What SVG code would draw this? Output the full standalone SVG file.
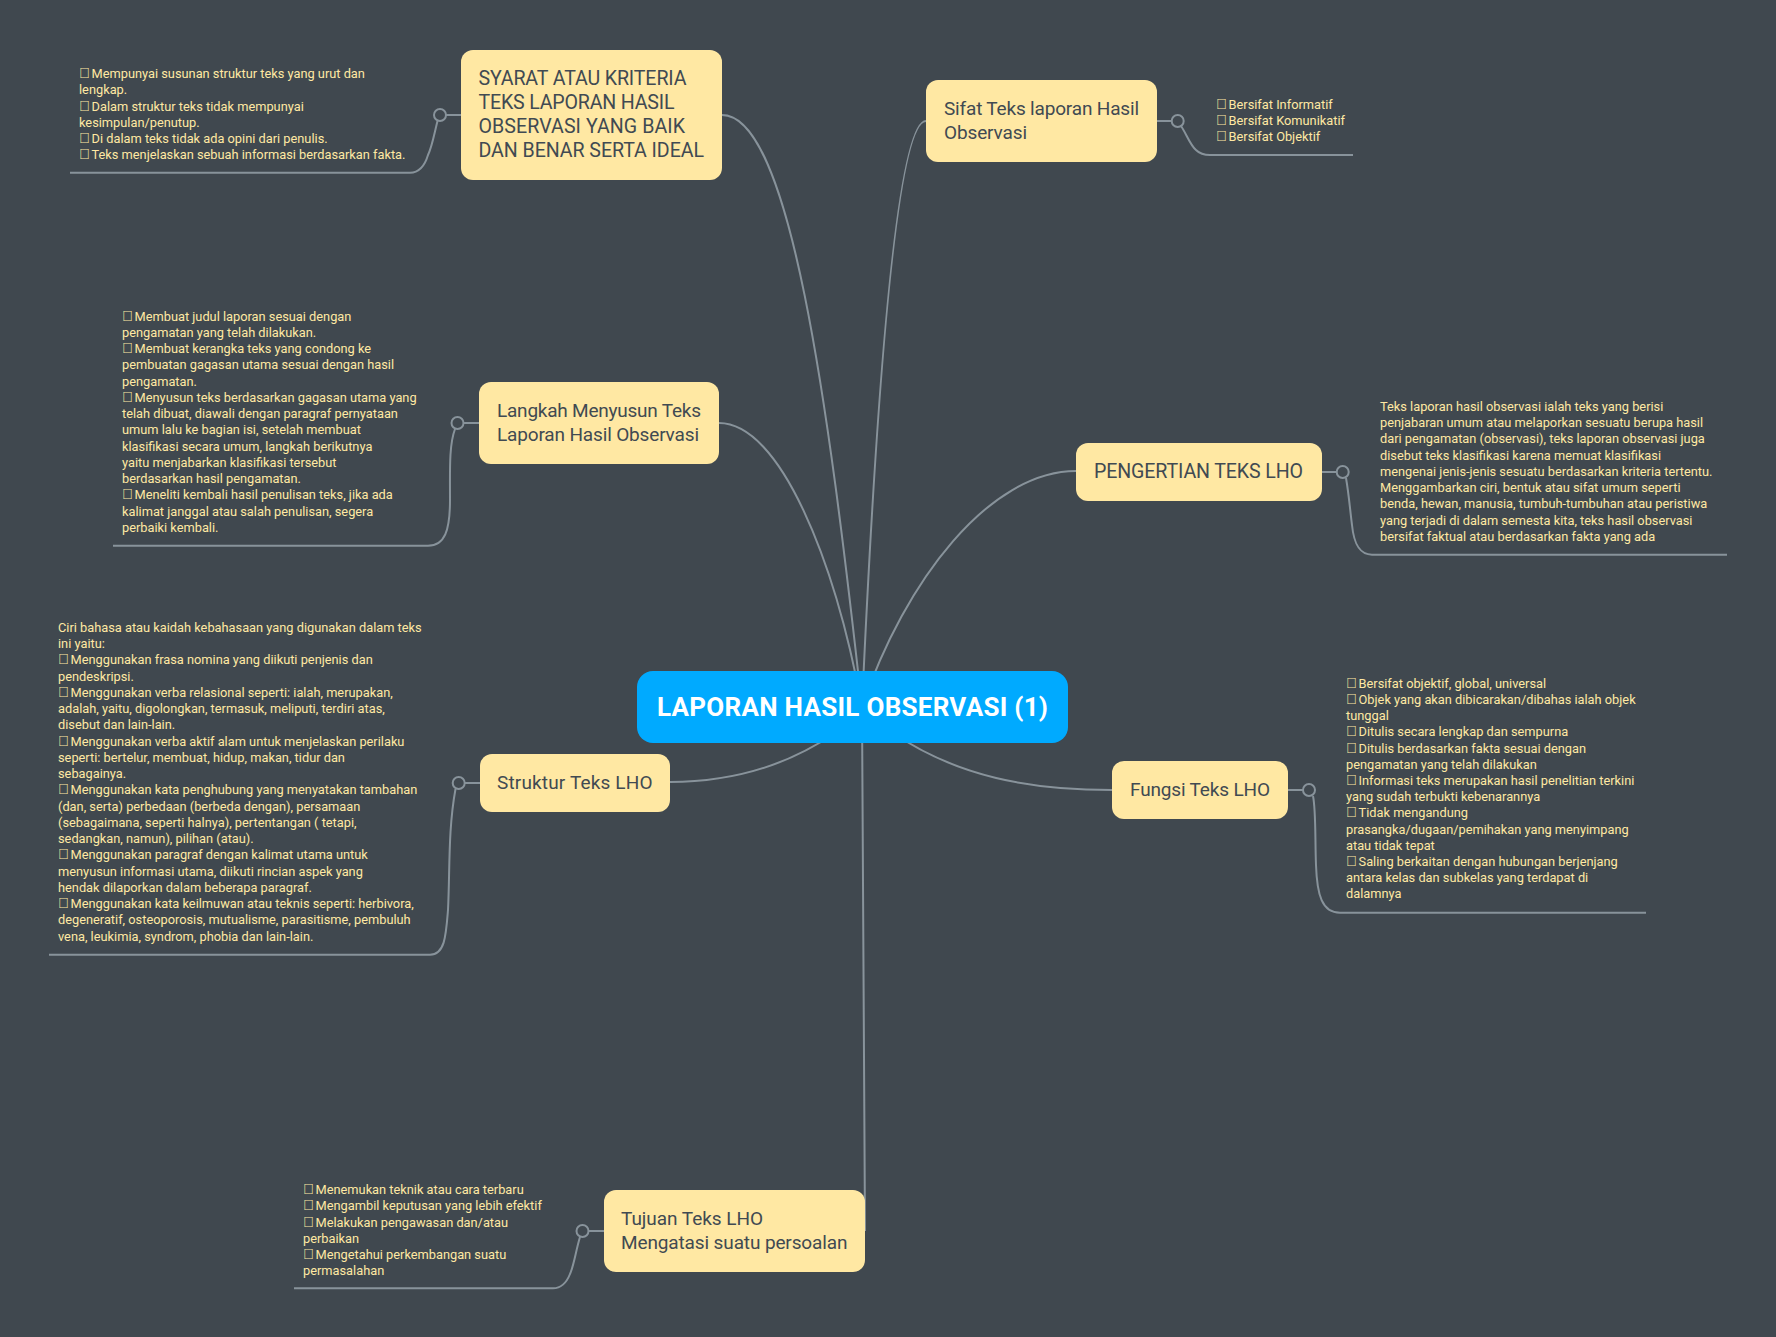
<svg xmlns="http://www.w3.org/2000/svg" width="1776" height="1337" viewBox="0 0 1776 1337">
<style>
text{font-family:"Roboto","Liberation Sans",sans-serif}
.n{fill:#ffe8a3}
.t{font-size:19px;fill:#414a52}
.u{font-size:19.600px}
.s{font-size:12.800px;fill:#ffe8a3}
.b{font-family:"Liberation Sans",sans-serif;font-size:14.500px;letter-spacing:-1.500px}
.c{fill:none;stroke:#88939b;stroke-width:2}
.h{fill:#40484f;stroke:#88939b;stroke-width:2}
</style>
<rect width="1776" height="1337" fill="#40484f"/>
<g id="connectors">
<path class="c" d="M722 115C790 115 828 400 862 707"/>
<path class="c" d="M926 121C895 121 875 420 862 707"/>
<path class="c" d="M719 423C780 423 835 560 862 707"/>
<path class="c" d="M1076 471C990 471 905 580 862 707"/>
<path class="c" d="M670 782C730 782 785 767 835 733"/>
<path class="c" d="M1112 790C1030 790 958 777 893 733"/>
<path class="c" d="M862 707C863 900 865 1100 865 1231"/>
<path class="c" d="M461 115H440M437.500 121C434 135 432 147 428 155C425 165 420 172.700 410 172.700H70"/>
<path class="c" d="M479 423H457.500M455 429C449 445 450 470 450 500C450 530 445 545.700 428 545.700H113"/>
<path class="c" d="M480 783H458.700M455.500 789C448 830 450 870 448 910C446 935 445 954.700 430 954.700H49"/>
<path class="c" d="M604 1231H582.500M580 1237C576 1250 574 1265 570 1274C566 1284 560 1288.300 553 1288.300H294"/>
<path class="c" d="M1156.700 121H1177.700M1181 126C1186 133 1190 145 1196 150C1200 154 1204 155 1210 155H1353"/>
<path class="c" d="M1322 472H1342.700M1346 478C1349 495 1350 510 1352 525C1354 545 1360 554.700 1372 554.700H1727"/>
<path class="c" d="M1288 790H1309M1313 796C1316 810 1315 840 1316 865C1317 895 1322 912.700 1340 912.700H1646"/>
</g>
<g id="root"><rect x="637" y="671" width="431" height="72" rx="16" fill="#00aaff"/>
<text x="657" y="716" font-size="26" font-weight="700" fill="#fff" textLength="391">LAPORAN HASIL OBSERVASI (1)</text></g>
<g id="n-syarat"><rect class="n" x="461" y="50" width="261" height="130" rx="12"/>
<text class="t u" x="478.500" y="85" textLength="208">SYARAT ATAU KRITERIA</text><text class="t u" x="478.500" y="109" textLength="196">TEKS LAPORAN HASIL</text><text class="t u" x="478.500" y="133" textLength="206.500">OBSERVASI YANG BAIK</text><text class="t u" x="478.500" y="157" textLength="225.500">DAN BENAR SERTA IDEAL</text></g>
<g id="n-sifat"><rect class="n" x="926" y="80" width="231" height="82" rx="12"/>
<text class="t" x="944" y="115" textLength="195">Sifat Teks laporan Hasil</text><text class="t" x="944" y="139" textLength="83">Observasi</text></g>
<g id="n-langkah"><rect class="n" x="479" y="382" width="240" height="82" rx="12"/>
<text class="t" x="497" y="417" textLength="204">Langkah Menyusun Teks</text><text class="t" x="497" y="441" textLength="202">Laporan Hasil Observasi</text></g>
<g id="n-pengertian"><rect class="n" x="1076" y="443" width="246" height="58" rx="12"/>
<text class="t u" x="1094" y="478" textLength="209">PENGERTIAN TEKS LHO</text></g>
<g id="n-struktur"><rect class="n" x="480" y="754" width="190" height="58" rx="12"/>
<text class="t" x="497" y="789" textLength="155.500">Struktur Teks LHO</text></g>
<g id="n-fungsi"><rect class="n" x="1112" y="761" width="176" height="58" rx="12"/>
<text class="t" x="1130" y="796" textLength="140">Fungsi Teks LHO</text></g>
<g id="n-tujuan"><rect class="n" x="604" y="1190" width="261" height="82" rx="12"/>
<text class="t" x="621" y="1225" textLength="142">Tujuan Teks LHO</text><text class="t" x="621" y="1249" textLength="226.500">Mengatasi suatu persoalan</text></g>
<g id="note-syarat"><circle class="h" cx="440" cy="115" r="6"/>
<text class="s"><tspan x="79" y="78"><tspan class="b">&#xF0B7;</tspan> Mempunyai susunan struktur teks yang urut dan</tspan><tspan x="79" y="94.200">lengkap.</tspan><tspan x="79" y="110.500"><tspan class="b">&#xF0B7;</tspan> Dalam struktur teks tidak mempunyai</tspan><tspan x="79" y="126.700">kesimpulan/penutup.</tspan><tspan x="79" y="143"><tspan class="b">&#xF0B7;</tspan> Di dalam teks tidak ada opini dari penulis.</tspan><tspan x="79" y="159.200"><tspan class="b">&#xF0B7;</tspan> Teks menjelaskan sebuah informasi berdasarkan fakta.</tspan></text></g>
<g id="note-langkah"><circle class="h" cx="457.500" cy="423" r="6"/>
<text class="s"><tspan x="122" y="320.700"><tspan class="b">&#xF0B7;</tspan> Membuat judul laporan sesuai dengan</tspan><tspan x="122" y="336.900">pengamatan yang telah dilakukan.</tspan><tspan x="122" y="353.200"><tspan class="b">&#xF0B7;</tspan> Membuat kerangka teks yang condong ke</tspan><tspan x="122" y="369.400">pembuatan gagasan utama sesuai dengan hasil</tspan><tspan x="122" y="385.600">pengamatan.</tspan><tspan x="122" y="401.900"><tspan class="b">&#xF0B7;</tspan> Menyusun teks berdasarkan gagasan utama yang</tspan><tspan x="122" y="418.100">telah dibuat, diawali dengan paragraf pernyataan</tspan><tspan x="122" y="434.300">umum lalu ke bagian isi, setelah membuat</tspan><tspan x="122" y="450.600">klasifikasi secara umum, langkah berikutnya</tspan><tspan x="122" y="466.800">yaitu menjabarkan klasifikasi tersebut</tspan><tspan x="122" y="483">berdasarkan hasil pengamatan.</tspan><tspan x="122" y="499.300"><tspan class="b">&#xF0B7;</tspan> Meneliti kembali hasil penulisan teks, jika ada</tspan><tspan x="122" y="515.500">kalimat janggal atau salah penulisan, segera</tspan><tspan x="122" y="531.700">perbaiki kembali.</tspan></text></g>
<g id="note-struktur"><circle class="h" cx="458.700" cy="783" r="6"/>
<text class="s"><tspan x="58" y="631.700">Ciri bahasa atau kaidah kebahasaan yang digunakan dalam teks</tspan><tspan x="58" y="648">ini yaitu:</tspan><tspan x="58" y="664.200"><tspan class="b">&#xF0B7;</tspan> Menggunakan frasa nomina yang diikuti penjenis dan</tspan><tspan x="58" y="680.500">pendeskripsi.</tspan><tspan x="58" y="696.700"><tspan class="b">&#xF0B7;</tspan> Menggunakan verba relasional seperti: ialah, merupakan,</tspan><tspan x="58" y="713">adalah, yaitu, digolongkan, termasuk, meliputi, terdiri atas,</tspan><tspan x="58" y="729.200">disebut dan lain-lain.</tspan><tspan x="58" y="745.500"><tspan class="b">&#xF0B7;</tspan> Menggunakan verba aktif alam untuk menjelaskan perilaku</tspan><tspan x="58" y="761.800">seperti: bertelur, membuat, hidup, makan, tidur dan</tspan><tspan x="58" y="778">sebagainya.</tspan><tspan x="58" y="794.300"><tspan class="b">&#xF0B7;</tspan> Menggunakan kata penghubung yang menyatakan tambahan</tspan><tspan x="58" y="810.500">(dan, serta) perbedaan (berbeda dengan), persamaan</tspan><tspan x="58" y="826.800">(sebagaimana, seperti halnya), pertentangan ( tetapi,</tspan><tspan x="58" y="843">sedangkan, namun), pilihan (atau).</tspan><tspan x="58" y="859.300"><tspan class="b">&#xF0B7;</tspan> Menggunakan paragraf dengan kalimat utama untuk</tspan><tspan x="58" y="875.600">menyusun informasi utama, diikuti rincian aspek yang</tspan><tspan x="58" y="891.800">hendak dilaporkan dalam beberapa paragraf.</tspan><tspan x="58" y="908.100"><tspan class="b">&#xF0B7;</tspan> Menggunakan kata keilmuwan atau teknis seperti: herbivora,</tspan><tspan x="58" y="924.300">degeneratif, osteoporosis, mutualisme, parasitisme, pembuluh</tspan><tspan x="58" y="940.600">vena, leukimia, syndrom, phobia dan lain-lain.</tspan></text></g>
<g id="note-tujuan"><circle class="h" cx="582.500" cy="1231" r="6"/>
<text class="s"><tspan x="303" y="1194"><tspan class="b">&#xF0B7;</tspan> Menemukan teknik atau cara terbaru</tspan><tspan x="303" y="1210.200"><tspan class="b">&#xF0B7;</tspan> Mengambil keputusan yang lebih efektif</tspan><tspan x="303" y="1226.500"><tspan class="b">&#xF0B7;</tspan> Melakukan pengawasan dan/atau</tspan><tspan x="303" y="1242.700">perbaikan</tspan><tspan x="303" y="1259"><tspan class="b">&#xF0B7;</tspan> Mengetahui perkembangan suatu</tspan><tspan x="303" y="1275.200">permasalahan</tspan></text></g>
<g id="note-sifat"><circle class="h" cx="1177.700" cy="121" r="6"/>
<text class="s"><tspan x="1216" y="109"><tspan class="b">&#xF0B7;</tspan> Bersifat Informatif</tspan><tspan x="1216" y="125"><tspan class="b">&#xF0B7;</tspan> Bersifat Komunikatif</tspan><tspan x="1216" y="141"><tspan class="b">&#xF0B7;</tspan> Bersifat Objektif</tspan></text></g>
<g id="note-pengertian"><circle class="h" cx="1342.700" cy="472" r="6"/>
<text class="s"><tspan x="1380" y="410.700">Teks laporan hasil observasi ialah teks yang berisi</tspan><tspan x="1380" y="427">penjabaran umum atau melaporkan sesuatu berupa hasil</tspan><tspan x="1380" y="443.200">dari pengamatan (observasi), teks laporan observasi juga</tspan><tspan x="1380" y="459.500">disebut teks klasifikasi karena memuat klasifikasi</tspan><tspan x="1380" y="475.700">mengenai jenis-jenis sesuatu berdasarkan kriteria tertentu.</tspan><tspan x="1380" y="492">Menggambarkan ciri, bentuk atau sifat umum seperti</tspan><tspan x="1380" y="508.200">benda, hewan, manusia, tumbuh-tumbuhan atau peristiwa</tspan><tspan x="1380" y="524.500">yang terjadi di dalam semesta kita, teks hasil observasi</tspan><tspan x="1380" y="540.700">bersifat faktual atau berdasarkan fakta yang ada</tspan></text></g>
<g id="note-fungsi"><circle class="h" cx="1309" cy="790" r="6"/>
<text class="s"><tspan x="1346" y="687.700"><tspan class="b">&#xF0B7;</tspan> Bersifat objektif, global, universal</tspan><tspan x="1346" y="703.900"><tspan class="b">&#xF0B7;</tspan> Objek yang akan dibicarakan/dibahas ialah objek</tspan><tspan x="1346" y="720.100">tunggal</tspan><tspan x="1346" y="736.300"><tspan class="b">&#xF0B7;</tspan> Ditulis secara lengkap dan sempurna</tspan><tspan x="1346" y="752.500"><tspan class="b">&#xF0B7;</tspan> Ditulis berdasarkan fakta sesuai dengan</tspan><tspan x="1346" y="768.700">pengamatan yang telah dilakukan</tspan><tspan x="1346" y="784.900"><tspan class="b">&#xF0B7;</tspan> Informasi teks merupakan hasil penelitian terkini</tspan><tspan x="1346" y="801.100">yang sudah terbukti kebenarannya</tspan><tspan x="1346" y="817.300"><tspan class="b">&#xF0B7;</tspan> Tidak mengandung</tspan><tspan x="1346" y="833.500">prasangka/dugaan/pemihakan yang menyimpang</tspan><tspan x="1346" y="849.700">atau tidak tepat</tspan><tspan x="1346" y="865.900"><tspan class="b">&#xF0B7;</tspan> Saling berkaitan dengan hubungan berjenjang</tspan><tspan x="1346" y="882.100">antara kelas dan subkelas yang terdapat di</tspan><tspan x="1346" y="898.300">dalamnya</tspan></text></g>
</svg>
